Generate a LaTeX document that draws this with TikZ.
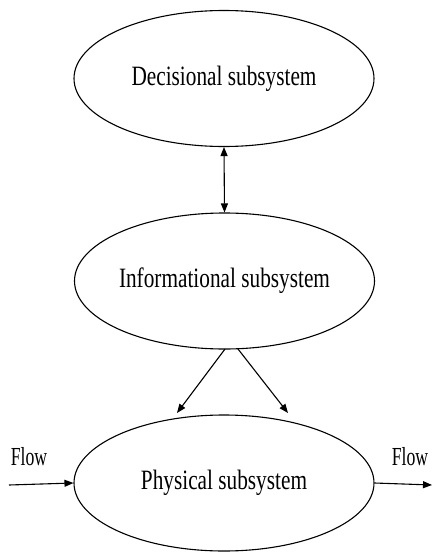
\documentclass[tikz,border=0pt]{standalone}
\usepackage{fontspec}
\setmainfont{Liberation Serif}[FakeStretch=0.76]
\newfontfamily\flowfont{Liberation Serif}[FakeStretch=0.68]
\usetikzlibrary{shapes.geometric,arrows.meta}
\begin{document}
\begin{tikzpicture}[x=1pt,y=-1pt,
  sub/.style={ellipse,draw,line width=1.1pt,minimum width=300pt,minimum height=136pt,inner sep=0pt,font=\fontsize{28}{30}\selectfont},
  conn/.style={line width=1.1pt,-{Triangle[length=9pt,width=7pt]}},
  flowlbl/.style={font=\flowfont\fontsize{26}{28}\selectfont,inner sep=0pt}]
\useasboundingbox (0,0) rectangle (432,552);
\node[sub] (dec) at (224,78.5) {Decisional subsystem};
\node[sub] (inf) at (224.5,281) {Informational subsystem};
\node[sub] (phy) at (224,483) {Physical subsystem};
\draw[conn,{Triangle[length=9pt,width=7pt]}-{Triangle[length=9pt,width=7pt]}] (dec.south) -- (inf.north);
\coordinate (s1) at (225,349);
\coordinate (s2) at (238,349);
\coordinate (t1) at (177,413);
\coordinate (t2) at (288,413);
\draw[conn] (s1) -- (t1);
\draw[conn] (s2) -- (t2);
\coordinate (fin) at (9,485);
\coordinate (fout) at (432,485);
\draw[conn] (fin) -- (phy.west);
\draw[conn] (phy.east) -- (fout);
\node[flowlbl] (fl1) at (29,457) {Flow};
\node[flowlbl] (fl2) at (410,457) {Flow};
\end{tikzpicture}
\end{document}
